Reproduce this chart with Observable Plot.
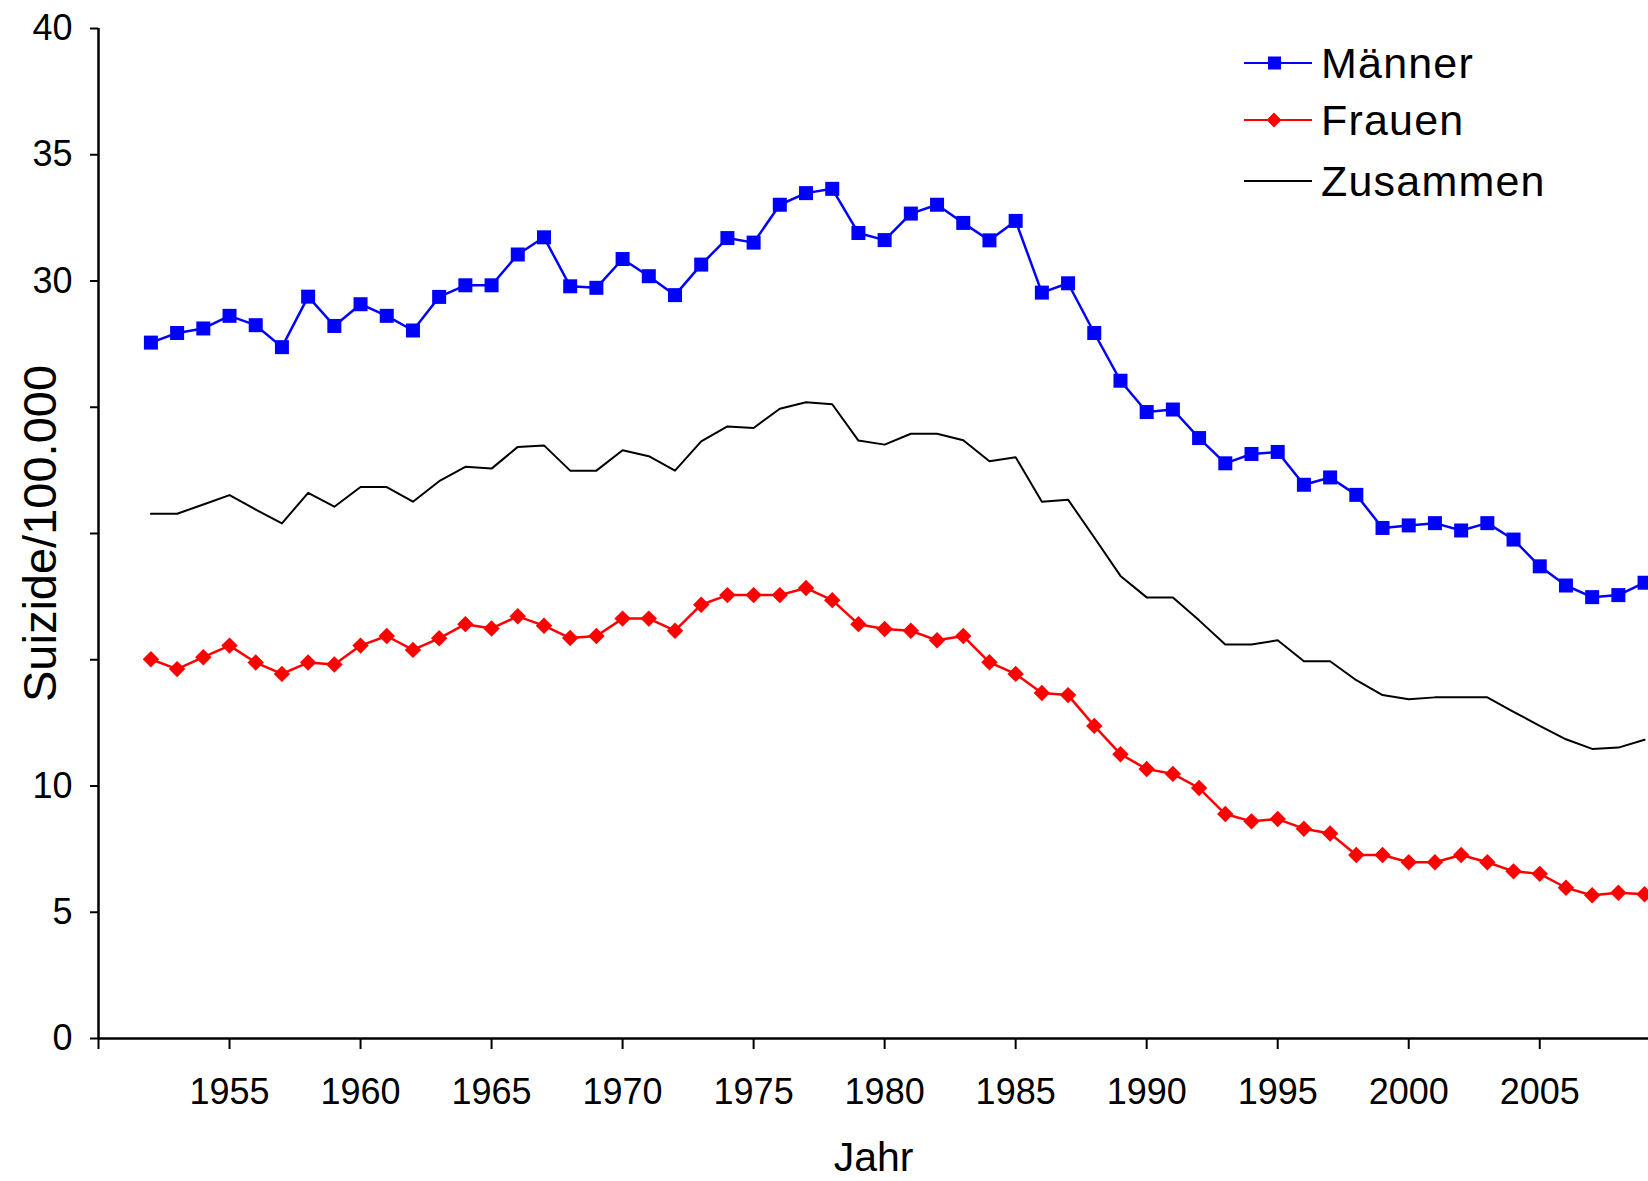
<!DOCTYPE html>
<html>
<head>
<meta charset="utf-8">
<script src="https://cdn.jsdelivr.net/npm/d3@7"></script>
<script src="https://cdn.jsdelivr.net/npm/@observablehq/plot@0.6"></script>
<style>
  html, body { margin: 0; padding: 0; background: #fff; }
  #wrap { position: relative; width: 1648px; height: 1181px; overflow: hidden; font-family: "Liberation Sans", Arial, sans-serif; }
  #legend { position: absolute; left: 1244px; top: 30px; }
  .li { position: absolute; left: 0; height: 50px; width: 380px; }
  .li svg { position: absolute; left: 0; top: 0; }
  .li span { position: absolute; left: 77px; top: 0; line-height: 50px; font-size: 43px; letter-spacing: 1.2px; color: #000; white-space: nowrap; }
</style>
</head>
<body>
<div id="wrap"></div>
<script>
const years = d3.range(1952, 2010);
const maenner = [27.56,27.94,28.12,28.62,28.25,27.38,29.38,28.22,29.08,28.62,
  28.04,29.37,29.83,29.83,31.05,31.73,29.79,29.73,30.87,30.19,
  29.44,30.65,31.70,31.52,33.02,33.48,33.65,31.90,31.62,32.67,
  33.02,32.30,31.61,32.38,29.54,29.91,27.94,26.05,24.81,24.91,
  23.78,22.78,23.15,23.23,21.93,22.22,21.53,20.22,20.32,20.41,
  20.12,20.41,19.76,18.70,17.94,17.48,17.56,18.05];
const frauen = [15.02,14.63,15.10,15.56,14.89,14.44,14.89,14.81,15.56,15.94,
  15.39,15.85,16.41,16.24,16.72,16.35,15.86,15.94,16.63,16.63,
  16.15,17.18,17.56,17.56,17.56,17.84,17.36,16.41,16.22,16.15,
  15.77,15.94,14.90,14.44,13.68,13.60,12.38,11.26,10.67,10.48,
  9.92,8.89,8.60,8.69,8.31,8.12,7.27,7.27,6.98,6.98,
  7.27,6.98,6.62,6.52,5.97,5.67,5.77,5.71];
const zusammen = [20.78,20.78,21.15,21.52,20.95,20.40,21.61,21.06,21.84,21.84,
  21.26,22.07,22.64,22.57,23.43,23.49,22.49,22.49,23.30,23.06,
  22.49,23.65,24.24,24.18,24.94,25.20,25.12,23.68,23.52,23.95,
  23.95,23.69,22.86,23.02,21.26,21.34,19.84,18.32,17.47,17.47,
  16.56,15.60,15.60,15.77,14.94,14.94,14.19,13.60,13.44,13.51,
  13.51,13.51,12.94,12.38,11.85,11.47,11.52,11.83];
const seriesNames = ["Männer", "Frauen", "Zusammen"];
const seriesColors = ["#0000ff", "#ff0000", "#000000"];
const yTicks = [0, 5, 10, 15, 20, 25, 30, 35, 40];
const yTickLabels = ["0", "5", "10", "", "", "", "30", "35", "40"];
const xTicks = [1950, 1955, 1960, 1965, 1970, 1975, 1980, 1985, 1990, 1995, 2000, 2005];
const xTickLabels = ["", "1955", "1960", "1965", "1970", "1975", "1980", "1985", "1990", "1995", "2000", "2005"];
const xTitle = "Jahr";
const yTitle = "Suizide/100.000";

const rows = years.map((year, i) => ({year, m: maenner[i], f: frauen[i], z: zusammen[i]}));

const plot = Plot.plot({
  width: 1648,
  height: 1181,
  marginLeft: 98,
  marginRight: 0,
  marginTop: 28,
  marginBottom: 143,
  style: {fontFamily: '"Liberation Sans", Arial, sans-serif', fontSize: "36px", color: "#000", background: "#fff"},
  x: {domain: [1950, 2009.15]},
  y: {domain: [0, 40]},
  marks: [
    Plot.axisY({ticks: yTicks, tickFormat: d => yTickLabels[yTicks.indexOf(d)], tickSize: 8, tickPadding: 18, strokeWidth: 2, label: null}),
    Plot.axisX({ticks: xTicks, tickFormat: d => xTickLabels[xTicks.indexOf(d)], tickSize: 11, tickPadding: 29, strokeWidth: 2, label: null}),
    Plot.ruleY([0], {strokeWidth: 2.5}),
    Plot.ruleX([1950], {strokeWidth: 2.5}),
    Plot.line(rows, {x: "year", y: "z", stroke: seriesColors[2], strokeWidth: 2}),
    Plot.line(rows, {x: "year", y: "m", stroke: seriesColors[0], strokeWidth: 2.5}),
    Plot.dot(rows, {x: "year", y: "m", symbol: "square", r: 7.9, fill: seriesColors[0], stroke: "none"}),
    Plot.line(rows, {x: "year", y: "f", stroke: seriesColors[1], strokeWidth: 2.5}),
    Plot.dot(rows, {x: "year", y: "f", symbol: "diamond2", r: 7.4, fill: seriesColors[1], stroke: "none"}),
    Plot.text([xTitle], {frameAnchor: "bottom", lineAnchor: "middle", textAnchor: "middle", dy: 119, fontSize: 41}),
    Plot.text([yTitle], {frameAnchor: "left", lineAnchor: "middle", textAnchor: "middle", rotate: -90, dx: -58, fontSize: 47})
  ]
});

const wrap = document.getElementById("wrap");
wrap.appendChild(plot);

// legend
const legend = document.createElement("div");
legend.id = "legend";
const rowTops = [8, 65, 126];
seriesNames.forEach((name, i) => {
  const li = document.createElement("div");
  li.className = "li";
  li.style.top = rowTops[i] + "px";
  let marker = "";
  if (i === 0) marker = `<rect x="24" y="18.5" width="13" height="13" fill="${seriesColors[i]}"/>`;
  if (i === 1) marker = `<path d="M30,17.5 L37.5,25 L30,32.5 L22.5,25 Z" fill="${seriesColors[i]}"/>`;
  li.innerHTML = `<svg width="70" height="50"><line x1="0" x2="68" y1="25" y2="25" stroke="${seriesColors[i]}" stroke-width="2"/>${marker}</svg><span>${name}</span>`;
  legend.appendChild(li);
});
wrap.appendChild(legend);
</script>
</body>
</html>
